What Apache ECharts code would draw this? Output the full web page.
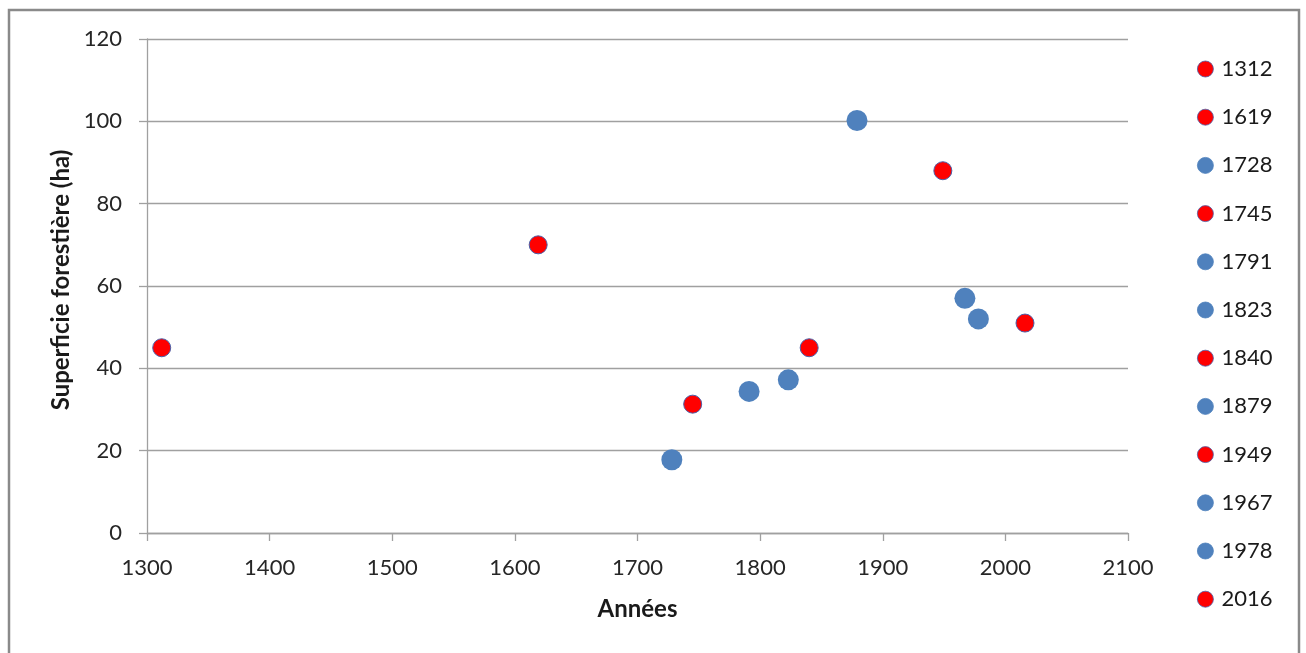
<!DOCTYPE html>
<html><head><meta charset="utf-8">
<script src="https://cdn.jsdelivr.net/npm/echarts@6/dist/echarts.min.js"></script>
<style>html,body{margin:0;padding:0;background:#fff}#c{width:1306px;height:653px}</style>
</head><body><div id="c"></div>
<script>
const years = [1312, 1619, 1728, 1745, 1791, 1823, 1840, 1879, 1949, 1967, 1978, 2016];
const areas = [45, 70, 17.8, 31.3, 34.4, 37.2, 45, 100.2, 88, 57, 52, 51];
const groups = ['red', 'red', 'blue', 'red', 'blue', 'blue', 'red', 'blue', 'red', 'blue', 'blue', 'red'];
const xTitle = 'Années';
const yTitle = 'Superficie forestière (ha)';

const FONT = 'Lato';
const styles = {
  red: {color: '#ff0000', borderColor: '#4a5fa8', borderWidth: 1, size: 18},
  blue: {color: '#4f81bd', borderColor: '#4f81bd', borderWidth: 0, size: 21}
};
const series = years.map((y, i) => {
  const s = styles[groups[i]];
  return {
    name: String(y), type: 'scatter', symbol: 'circle', symbolSize: s.size,
    data: [[y, areas[i]]],
    itemStyle: {color: s.color, borderColor: s.borderColor, borderWidth: s.borderWidth, opacity: 1},
    emphasis: {disabled: true}
  };
});
const chart = echarts.init(document.getElementById('c'), null, {renderer: 'canvas'});
chart.setOption({
  animation: false,
  backgroundColor: '#fff',
  textStyle: {fontFamily: FONT},
  grid: {left: 147, right: 178, top: 39, bottom: 120, containLabel: false},
  graphic: [{type: 'rect', shape: {x: 9, y: 10, width: 1290, height: 660}, style: {fill: 'none', stroke: '#8a8a8a', lineWidth: 2.5}, silent: true}],
  xAxis: {
    type: 'value', min: 1300, max: 2100, interval: 100,
    name: xTitle, nameLocation: 'middle', nameGap: 64,
    nameTextStyle: {fontFamily: FONT, fontSize: 24, fontWeight: 'bold', color: '#1a1a1a'},
    axisLine: {show: true, lineStyle: {color: '#a0a0a0', width: 1.3}},
    axisTick: {show: true, length: 8, inside: false, lineStyle: {color: '#a0a0a0', width: 1.3}},
    axisLabel: {fontFamily: FONT, fontSize: 22, color: '#262626', margin: 24, formatter: v => String(v)},
    splitLine: {show: false}
  },
  yAxis: {
    type: 'value', min: 0, max: 120, interval: 20,
    name: yTitle, nameLocation: 'middle', nameGap: 71, nameRotate: 90,
    nameTextStyle: {fontFamily: FONT, fontSize: 24, fontWeight: 'bold', color: '#1a1a1a', padding: [0, 0, 0, 12]},
    axisLine: {show: true, lineStyle: {color: '#a0a0a0', width: 1.3}},
    axisTick: {show: true, length: 8, lineStyle: {color: '#a0a0a0', width: 1.3}},
    axisLabel: {fontFamily: FONT, fontSize: 22, color: '#262626', margin: 25},
    splitLine: {show: true, lineStyle: {color: '#a0a0a0', width: 1.3}}
  },
  legend: {
    orient: 'vertical', left: 1192, top: 53,
    itemWidth: 16, itemHeight: 16, itemGap: 26.2,
    icon: 'circle',
    itemStyle: {borderWidth: 0.8},
    textStyle: {fontFamily: FONT, fontSize: 22, color: '#1a1a1a', lineHeight: 22, padding: [0, 0, 0, 3]},
    selectedMode: false
  },
  series: series
});
</script></body></html>
